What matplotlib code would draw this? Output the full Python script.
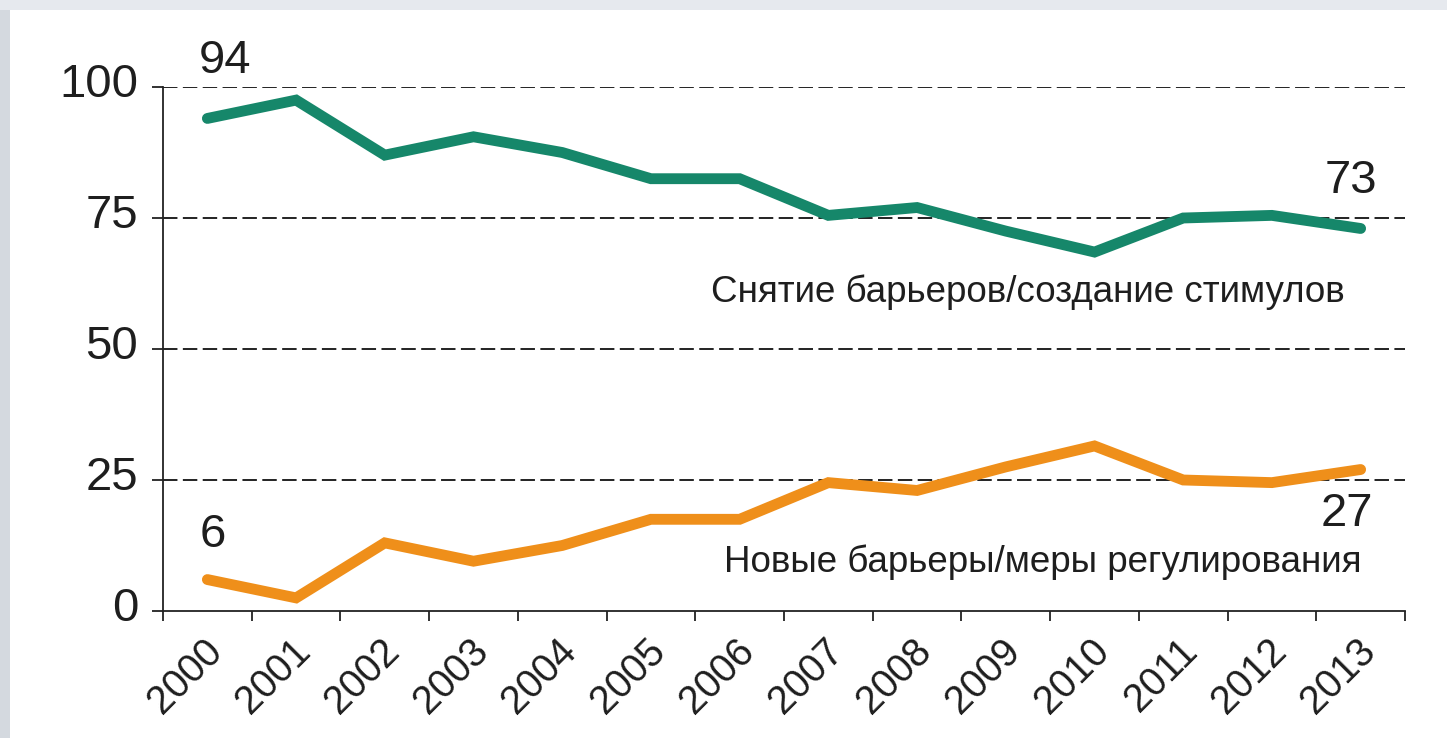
import matplotlib
matplotlib.use('Agg')
import matplotlib.pyplot as plt
import matplotlib.transforms as mtransforms
from matplotlib.patches import Rectangle
import numpy as np

# ---- data ----
years = ['2000', '2001', '2002', '2003', '2004', '2005', '2006',
         '2007', '2008', '2009', '2010', '2011', '2012', '2013']
removal = [94, 97.5, 87, 90.5, 87.5, 82.5, 82.5, 75.5, 77, 72.5, 68.5, 75, 75.5, 73]
new_barriers = [6, 2.5, 13, 9.5, 12.5, 17.5, 17.5, 24.5, 23, 27.5, 31.5, 25, 24.5, 27]
yticks = [0, 25, 50, 75, 100]
label_removal = 'Снятие барьеров/создание стимулов'
label_new = 'Новые барьеры/меры регулирования'

GREEN = '#16876a'
ORANGE = '#ef8f1a'
TXT = '#1e1e1e'

plt.rcParams['font.family'] = ['Liberation Sans', 'DejaVu Sans']

W, H = 1447, 738
fig = plt.figure(figsize=(W / 100, H / 100), dpi=100)
fig.patch.set_facecolor('white')

# light slide-like border strips
fig.patches.append(Rectangle((0, 0), 10 / W, 1, transform=fig.transFigure,
                             facecolor='#d4d9df', edgecolor='none', zorder=0))
fig.patches.append(Rectangle((0, 1 - 10 / H), 1, 10 / H, transform=fig.transFigure,
                             facecolor='#e6e9ee', edgecolor='none', zorder=0))

ax = fig.add_axes([163 / W, 1 - 611 / H, (1405 - 163) / W, (611 - 87) / H])
ax.set_facecolor('none')

x = np.arange(len(years)) + 0.5

ax.plot(x, removal, color=GREEN, lw=7.8, solid_capstyle='round',
        solid_joinstyle='miter', zorder=3, clip_on=False)
ax.plot(x, new_barriers, color=ORANGE, lw=7.8, solid_capstyle='round',
        solid_joinstyle='miter', zorder=3, clip_on=False)

ax.set_xlim(0, len(years))
ax.set_ylim(0, 100)

# dashed gridlines
for yv in yticks[1:]:
    ax.axhline(yv, color='#111111', lw=1.3, ls=(0, (8, 3)), zorder=1)

for s in ['top', 'right']:
    ax.spines[s].set_visible(False)
for s in ['left', 'bottom']:
    ax.spines[s].set_color('#222222')
    ax.spines[s].set_linewidth(1.3)

# x ticks: boundaries (major) and labels at centres (minor)
ax.set_xticks(np.arange(len(years) + 1))
ax.set_xticklabels([])
ax.tick_params(axis='x', which='major', direction='out', length=7, width=1.3,
               color='#222222')
ax.set_xticks(x, minor=True)
ax.set_xticklabels(years, minor=True, rotation=45, ha='right', va='top',
                   rotation_mode='anchor', fontsize=28.5, color=TXT)
ax.tick_params(axis='x', which='minor', length=0, pad=15)
offx = mtransforms.ScaledTranslation(-0.05, 0, fig.dpi_scale_trans)
for lab in ax.get_xticklabels(minor=True):
    lab.set_transform(lab.get_transform() + offx)

ax.set_yticks(yticks)
ax.set_yticklabels([str(v) for v in yticks], fontsize=34, color=TXT)
ax.tick_params(axis='y', direction='out', length=8, width=1.3, color='#222222', pad=10)
offy = mtransforms.ScaledTranslation(0, 0.07, fig.dpi_scale_trans)
for lab in ax.get_yticklabels():
    lab.set_transform(lab.get_transform() + offy)

# end-point annotations
ann = dict(textcoords='offset points', fontsize=34, color=TXT,
           ha='center', va='center')
ax.annotate(f'{removal[0]:g}', (x[0], removal[0]), xytext=(13, 41), **ann)
ax.annotate(f'{removal[-1]:g}', (x[-1], removal[-1]), xytext=(-7, 34), **ann)
ax.annotate(f'{new_barriers[0]:g}', (x[0], new_barriers[0]), xytext=(4, 32), **ann)
ax.annotate(f'{new_barriers[-1]:g}', (x[-1], new_barriers[-1]), xytext=(-10, -32), **ann)

# series labels
ax.text((1028 - 163) / 88.7, (612 - 303) / 5.24, label_removal, fontsize=26.5,
        color=TXT, ha='center', va='baseline')
ax.text((1043 - 163) / 88.7, (612 - 573) / 5.24, label_new, fontsize=26.5,
        color=TXT, ha='center', va='baseline')

fig.savefig('out.png', dpi=100, facecolor=fig.get_facecolor())
